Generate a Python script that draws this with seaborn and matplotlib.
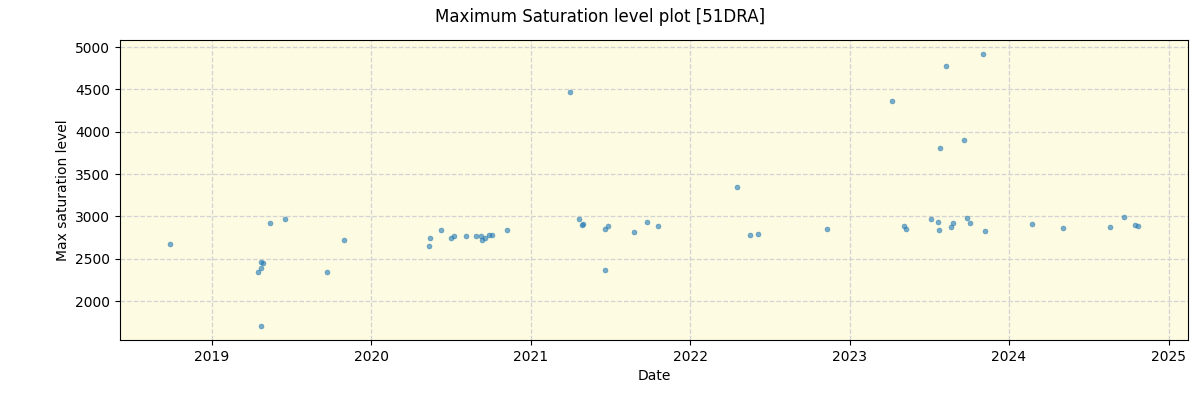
import pandas as pd
import matplotlib
matplotlib.use('Agg')
import matplotlib.pyplot as plt
import seaborn as sns

dates = [
    '2018-09-27', '2019-04-18', '2019-04-23', '2019-04-25', '2019-04-28',
    '2019-04-23', '2019-05-15', '2019-06-17', '2019-09-23', '2019-11-01',
    '2020-05-13', '2020-05-15', '2020-06-10', '2020-07-01', '2020-07-08',
    '2020-08-05', '2020-08-28', '2020-09-08', '2020-09-10', '2020-09-19',
    '2020-09-26', '2020-10-03', '2020-11-07',
    '2021-04-01', '2021-04-22', '2021-04-29', '2021-05-01', '2021-06-20',
    '2021-06-27', '2021-06-20', '2021-08-25', '2021-09-24', '2021-10-19',
    '2022-04-18', '2022-05-18', '2022-06-05', '2022-11-10',
    '2023-04-07', '2023-05-05', '2023-05-10', '2023-07-06', '2023-07-22',
    '2023-07-24', '2023-07-26', '2023-08-09', '2023-08-22', '2023-08-25',
    '2023-09-19', '2023-09-26', '2023-10-03', '2023-11-03', '2023-11-06',
    '2024-02-22', '2024-05-03', '2024-08-20', '2024-09-21', '2024-10-16',
    '2024-10-23',
]
max_sat = [
    2669, 2339, 2457, 2386, 2445,
    1701, 2917, 2965, 2339, 2717,
    2646, 2740, 2835, 2740, 2764,
    2764, 2764, 2764, 2717, 2740,
    2776, 2776, 2835,
    4464, 2965, 2894, 2906, 2854,
    2882, 2362, 2811, 2929, 2882,
    3342, 2776, 2787, 2846,
    4358, 2882, 2846, 2965, 2929,
    2835, 3803, 4771, 2870, 2917,
    3897, 2976, 2917, 4913, 2823,
    2906, 2858, 2870, 2988, 2894,
    2882,
]

df = pd.DataFrame({'Date': pd.to_datetime(dates), 'Max saturation level': max_sat})

fig, ax = plt.subplots(figsize=(12, 4), dpi=100)
fig.suptitle('Maximum Saturation level plot [51DRA]', fontsize=12)

ax.set_facecolor('#fdfbe1')
sns.scatterplot(data=df, x='Date', y='Max saturation level', ax=ax,
                color='tab:blue', alpha=0.6, s=13,
                edgecolor='tab:blue', linewidth=0.4)
ax.grid(True, linestyle='--', color='lightgray', linewidth=0.9)
ax.set_axisbelow(True)

ax.set_xlim(pd.Timestamp('2018-06-05'), pd.Timestamp('2025-02-14'))
ax.set_ylim(1540, 5083)
ax.set_yticks([2000, 2500, 3000, 3500, 4000, 4500, 5000])

plt.subplots_adjust(left=0.1, right=0.99, top=0.9, bottom=0.15)
plt.savefig('out.png', dpi=100)
